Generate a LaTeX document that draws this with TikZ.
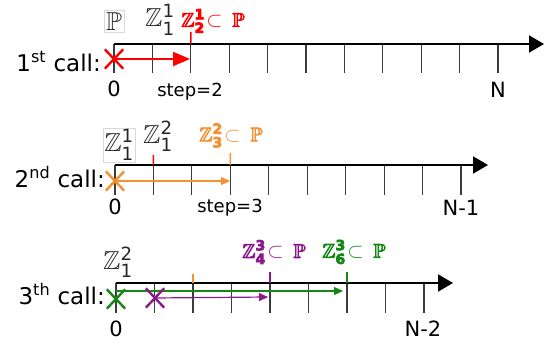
\documentclass[tikz,border=0pt]{standalone}
\usepackage{fontspec}
\setmainfont{DejaVu Sans}
\setsansfont{DejaVu Sans}
\usepackage{amsmath,amssymb}
\usetikzlibrary{arrows.meta,shapes.misc}
\definecolor{cred}{RGB}{255,0,0}
\definecolor{corange}{RGB}{245,145,50}
\definecolor{cpurple}{RGB}{140,25,140}
\definecolor{cgreen}{RGB}{20,135,20}
\definecolor{ctick}{RGB}{60,60,60}
\newcommand{\strokebold}[1]{\special{pdf:literal direct 2 Tr 0.7 w}#1\special{pdf:literal direct 0 Tr 0.4 w}}
\newcommand{\graylab}[1]{$\mathbb{Z}^{\textsf{#1}}_{\textsf{1}}$}
\newcommand{\collab}[2]{\strokebold{$\mathbb{Z}^{\textsf{\bfseries #1}}_{\textsf{\bfseries #2}}$}\kern1.5pt$\subset$\hspace{0.5em}\strokebold{$\mathbb{P}$}}
\begin{document}
\begin{tikzpicture}[x=1pt,y=-1pt,
  axisline/.style={line width=2pt,-{Triangle[length=15pt,width=17pt]}},
  tickline/.style={line width=1.1pt,draw=ctick},
  ctickline/.style={line width=1.6pt},
  xmark/.style={cross out,draw,line width=2.4pt,minimum width=16pt,minimum height=17pt,inner sep=0pt},
  thinarrow/.style={line width=1.2pt,-{Triangle[length=9pt,width=8pt]}},
  thickarrow/.style={line width=2pt,-{Triangle[length=17pt,width=14pt]}},
  calltext/.style={font=\fontsize{23}{27}\selectfont,inner sep=0pt,anchor=base east},
  numtext/.style={font=\fontsize{21}{25}\selectfont,inner sep=0pt,anchor=base},
  steptext/.style={font=\fontsize{18}{22}\selectfont,inner sep=0pt,anchor=base},
  graymath/.style={font=\fontsize{26}{30}\selectfont,inner sep=0pt,text=black!85,anchor=west},
  colmath/.style={font=\fontsize{20}{24}\selectfont,inner sep=0pt,anchor=west},
  faintbox/.style={draw=black!15,line width=0.6pt,inner sep=2pt},
]
\useasboundingbox (0,0) rectangle (550,347);

% ---------- row 1 ----------
\foreach \i in {0,...,10}{
  \coordinate (t1-\i) at ({114+38.4*\i},44);
  \coordinate (b1-\i) at ({114+38.4*\i},73);
  \draw[tickline] (t1-\i) -- (b1-\i);
}
\coordinate (a1s) at (114,44);
\coordinate (a1e) at (544,44);
\draw[axisline] (a1s) -- (a1e);
\coordinate (r1top) at (190.8,32);
\draw[ctickline,cred] (r1top) -- (t1-2);
\node[xmark,cred] (x1) at (114,59) {};
\coordinate (e1) at (190,59);
\draw[thickarrow,cred] (x1.center) -- (e1);
\node[calltext] (c1) at (101,72) {1\textsuperscript{st} call:};
\node[numtext] (z1) at (114,97) {0};
\node[numtext] (n1) at (498,98) {N};
\node[steptext] (s1) at (190,97) {step=2};
\node[faintbox,font=\fontsize{26}{30}\selectfont,text=black!85] (p1) at (114,21.5) {$\mathbb{P}$};
\node[graymath] (g1) at (145,20) {\graylab{1}};
\node[colmath,text=cred] (l1) at (181,21) {\collab{1}{2}};

% ---------- row 2 ----------
\foreach \i in {0,...,9}{
  \coordinate (t2-\i) at ({115+38.44*\i},165);
  \coordinate (b2-\i) at ({115+38.44*\i},195);
  \draw[tickline] (t2-\i) -- (b2-\i);
}
\coordinate (a2s) at (115,165);
\coordinate (a2e) at (488,165);
\draw[axisline] (a2s) -- (a2e);
\coordinate (r2top) at (153.4,155);
\draw[ctickline,cred] (r2top) -- (t2-1);
\coordinate (o2top) at (230.3,153);
\draw[ctickline,corange] (o2top) -- (t2-3);
\node[xmark,corange] (x2) at (115,181) {};
\coordinate (e2) at (230,181);
\draw[thinarrow,corange] (x2.center) -- (e2);
\node[calltext] (c2) at (105,188) {2\textsuperscript{nd} call:};
\node[numtext] (z2) at (115,215) {0};
\node[numtext] (n2) at (461,216) {N-1};
\node[steptext] (s2) at (230,213) {step=3};
\node[faintbox,graymath,inner sep=1.5pt] (g2a) at (102.5,145) {\graylab{1}};
\node[graymath] (g2b) at (143,136.5) {\graylab{2}};
\node[colmath,text=corange] (l2) at (199,135.5) {\collab{2}{3}};

% ---------- row 3 ----------
\foreach \i in {0,...,8}{
  \coordinate (t3-\i) at ({116+38.5*\i},283);
  \coordinate (b3-\i) at ({116+38.5*\i},313);
  \draw[tickline] (t3-\i) -- (b3-\i);
}
\coordinate (a3s) at (116,283);
\coordinate (a3e) at (453,283);
\draw[axisline] (a3s) -- (a3e);
\coordinate (o3top) at (193,274);
\draw[ctickline,corange] (o3top) -- (t3-2);
\coordinate (p3top) at (270,272);
\draw[ctickline,cpurple] (p3top) -- (t3-4);
\coordinate (gr3top) at (347,272);
\draw[ctickline,cgreen] (gr3top) -- (t3-6);
\coordinate (gs) at (116,291);
\coordinate (ge) at (343,291);
\draw[thinarrow,cgreen] (gs) -- (ge);
\node[xmark,cgreen] (x3g) at (116,299) {};
\node[xmark,cpurple] (x3p) at (155,298) {};
\coordinate (e3p) at (268,297);
\draw[thinarrow,cpurple] (x3p.center) -- (e3p);
\node[calltext] (c3) at (105,305) {3\textsuperscript{th} call:};
\node[numtext] (z3) at (116,337) {0};
\node[numtext] (n3) at (423,337) {N-2};
\node[graymath] (g3) at (103,262) {\graylab{2}};
\node[colmath,text=cpurple] (l3a) at (242,252) {\collab{3}{4}};
\node[colmath,text=cgreen] (l3b) at (322,252) {\collab{3}{6}};
\end{tikzpicture}
\end{document}
